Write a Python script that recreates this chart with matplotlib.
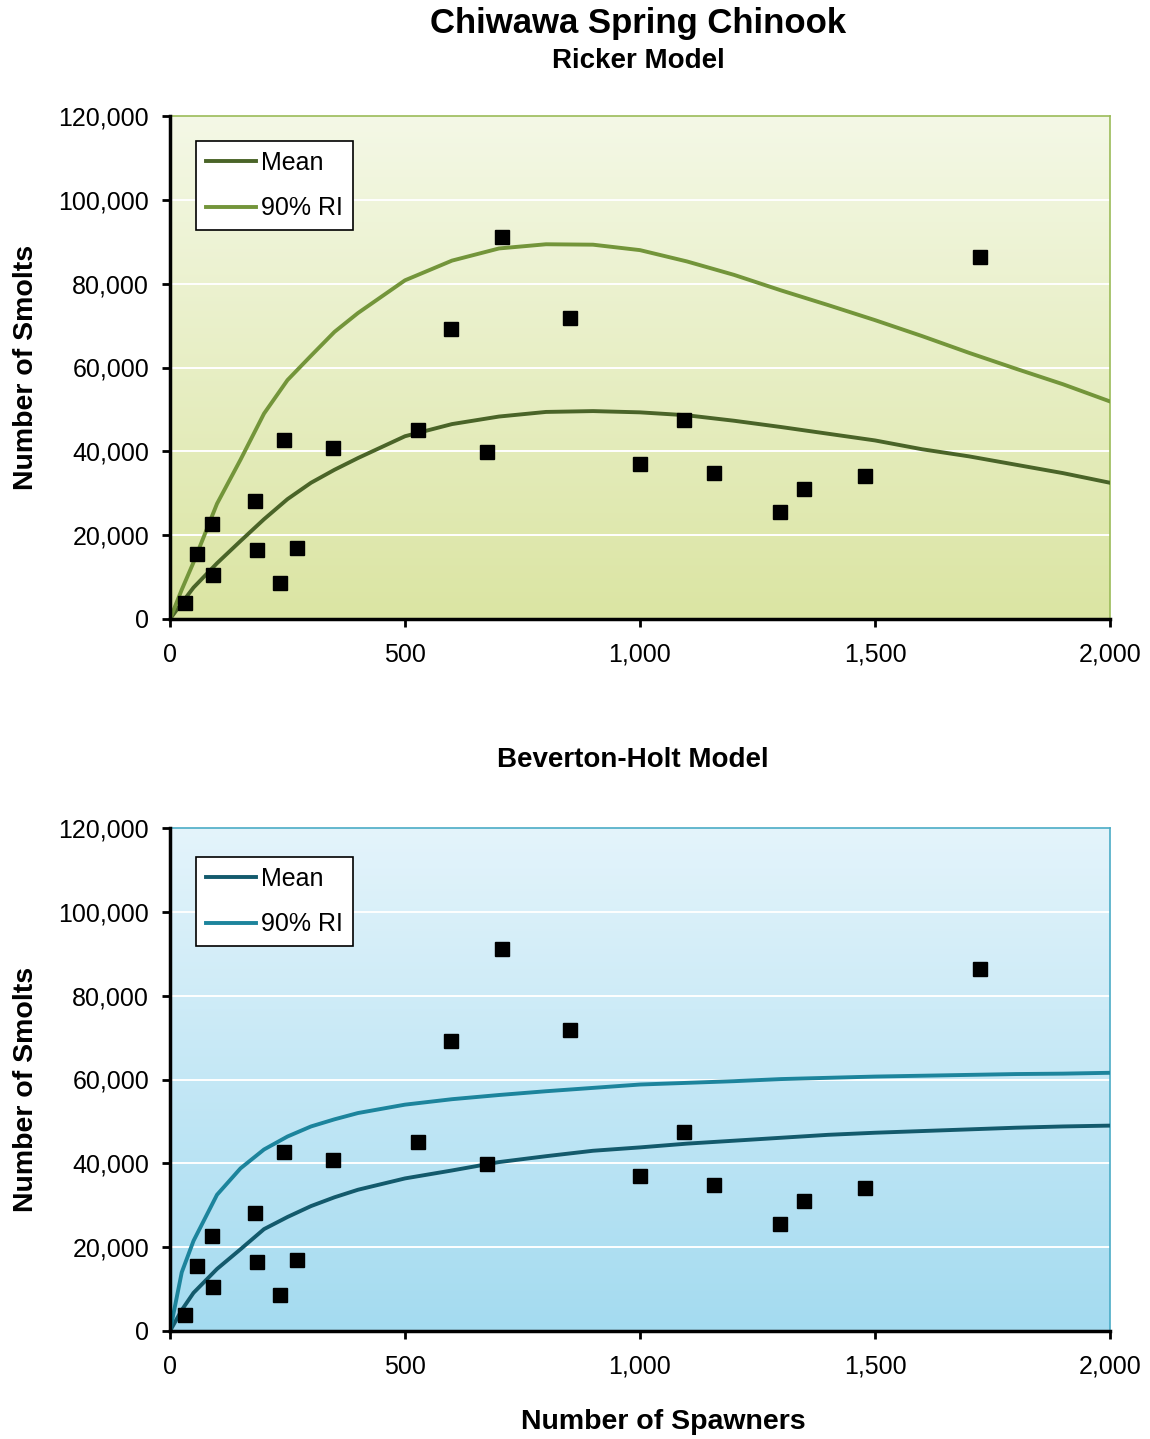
import numpy as np
import matplotlib
matplotlib.use("Agg")
import matplotlib.pyplot as plt
from matplotlib.ticker import FuncFormatter, FixedLocator
from matplotlib.colors import LinearSegmentedColormap

plt.rcParams['font.family'] = ['Liberation Sans', 'DejaVu Sans']

# ---- Data ----
spawners = [32, 58, 90, 91, 181, 185, 233, 243, 270, 347, 528, 598, 675, 707,
            852, 1000, 1094, 1158, 1298, 1349, 1479, 1724]
smolts = [3750, 15400, 22700, 10500, 28200, 16500, 8700, 42600, 17000, 40900,
          45100, 69200, 39800, 91100, 71900, 36900, 47500, 34800, 25600, 31000,
          34100, 86400]

curve_x = [0, 25, 50, 100, 150, 200, 250, 300, 350, 400, 500, 600, 700, 800,
           900, 1000, 1100, 1200, 1300, 1400, 1500, 1600, 1700, 1800, 1900, 2000]

ricker_mean = [0, 3800, 7500, 13300, 18600, 23800, 28600, 32500, 35600, 38400,
               43600, 46500, 48300, 49400, 49600, 49300, 48600, 47300, 45800,
               44200, 42600, 40500, 38800, 36800, 34800, 32500]
ricker_upper = [0, 7000, 13500, 27500, 38000, 49000, 57000, 62800, 68500, 73000,
                80800, 85500, 88400, 89400, 89300, 88000, 85300, 82100, 78400,
                74900, 71300, 67500, 63500, 59700, 56000, 51900]

bh_mean = [0, 5000, 9100, 14800, 19500, 24300, 27200, 29800, 31900, 33700,
           36400, 38300, 40300, 41700, 43000, 43800, 44700, 45400, 46100,
           46800, 47300, 47700, 48100, 48500, 48800, 49000]
bh_upper = [0, 14000, 21500, 32500, 38800, 43300, 46400, 48800, 50500, 52000,
            54000, 55300, 56300, 57200, 58000, 58800, 59200, 59600, 60100,
            60400, 60700, 60900, 61100, 61300, 61400, 61600]

x_ticks = [0, 500, 1000, 1500, 2000]
y_ticks = [0, 20000, 40000, 60000, 80000, 100000, 120000]

fig = plt.figure(figsize=(11.5, 14.39), dpi=100)

W, H = 1150, 1439
def rect(l, t, r, b):
    return [l / W, 1 - b / H, (r - l) / W, (b - t) / H]

fmt = FuncFormatter(lambda v, p: f"{int(v):,}")

def panel(axrect, top_col, bot_col, frame_col, mean, upper, mean_col, up_col,
          leg_top):
    ax = fig.add_axes(axrect)
    ax.set_xlim(0, 2000)
    ax.set_ylim(0, 120000)
    cmap = LinearSegmentedColormap.from_list('g', [bot_col, top_col])
    grad = np.linspace(0, 1, 256).reshape(-1, 1)
    ax.imshow(grad, cmap=cmap, aspect='auto', origin='lower',
              extent=[0, 1, 0, 1], transform=ax.transAxes, zorder=0)
    for yv in y_ticks[1:-1]:
        ax.axhline(yv, color='white', lw=1.4, zorder=1)
    ax.plot(curve_x, mean, color=mean_col, lw=2.8, zorder=3, label='Mean')
    ax.plot(curve_x, upper, color=up_col, lw=2.8, zorder=3, label='90% RI')
    ax.plot(spawners, smolts, linestyle='none', marker='s', markersize=10,
            color='black', zorder=4)
    ax.xaxis.set_major_locator(FixedLocator(x_ticks))
    ax.yaxis.set_major_locator(FixedLocator(y_ticks))
    ax.xaxis.set_major_formatter(fmt)
    ax.yaxis.set_major_formatter(fmt)
    ax.tick_params(direction='out', length=6, width=2, labelsize=18,
                   color='black')
    ax.tick_params(axis='x', pad=11)
    ax.tick_params(axis='y', pad=9)
    for s in ['left', 'bottom']:
        ax.spines[s].set_linewidth(2.5)
        ax.spines[s].set_color('black')
        ax.spines[s].set_zorder(5)
    for s in ['top', 'right']:
        ax.spines[s].set_linewidth(1.2)
        ax.spines[s].set_color(frame_col)
    leg = ax.legend(loc='upper left', bbox_to_anchor=(0.028, leg_top),
                    fontsize=18, frameon=True, fancybox=False,
                    edgecolor='black', framealpha=1, handlelength=2.0,
                    handletextpad=0.2, borderpad=0.4, labelspacing=0.85,
                    borderaxespad=0)
    leg.get_frame().set_linewidth(1.2)
    ax.set_ylabel('Number of Smolts', fontsize=20.5, fontweight='bold')
    ax.yaxis.set_label_coords(-0.139, 0.5)
    return ax

ax1 = panel(rect(170, 116, 1110, 619), '#f4f8e6', '#dbe5a3', '#9bbb59',
            ricker_mean, ricker_upper, '#4a6428', '#73953a', 0.95)
ax2 = panel(rect(170, 828, 1110, 1331), '#e4f4fb', '#a4dbf0', '#4bacc6',
            bh_mean, bh_upper, '#135a6c', '#1c849c', 0.942)
ax2.yaxis.set_label_coords(-0.139, 0.48)

ax2.set_xlabel('Number of Spawners', fontsize=20.5, fontweight='bold')
ax2.xaxis.set_label_coords(0.525, -0.155)

fig.text(638 / W, 1 - 24 / H, 'Chiwawa Spring Chinook', ha='center', va='center',
         fontsize=25, fontweight='bold')
fig.text(638 / W, 1 - 61 / H, 'Ricker Model', ha='center', va='center',
         fontsize=20, fontweight='bold')
fig.text(633 / W, 1 - 760 / H, 'Beverton-Holt Model', ha='center', va='center',
         fontsize=20, fontweight='bold')

fig.savefig('out.png', dpi=100)
